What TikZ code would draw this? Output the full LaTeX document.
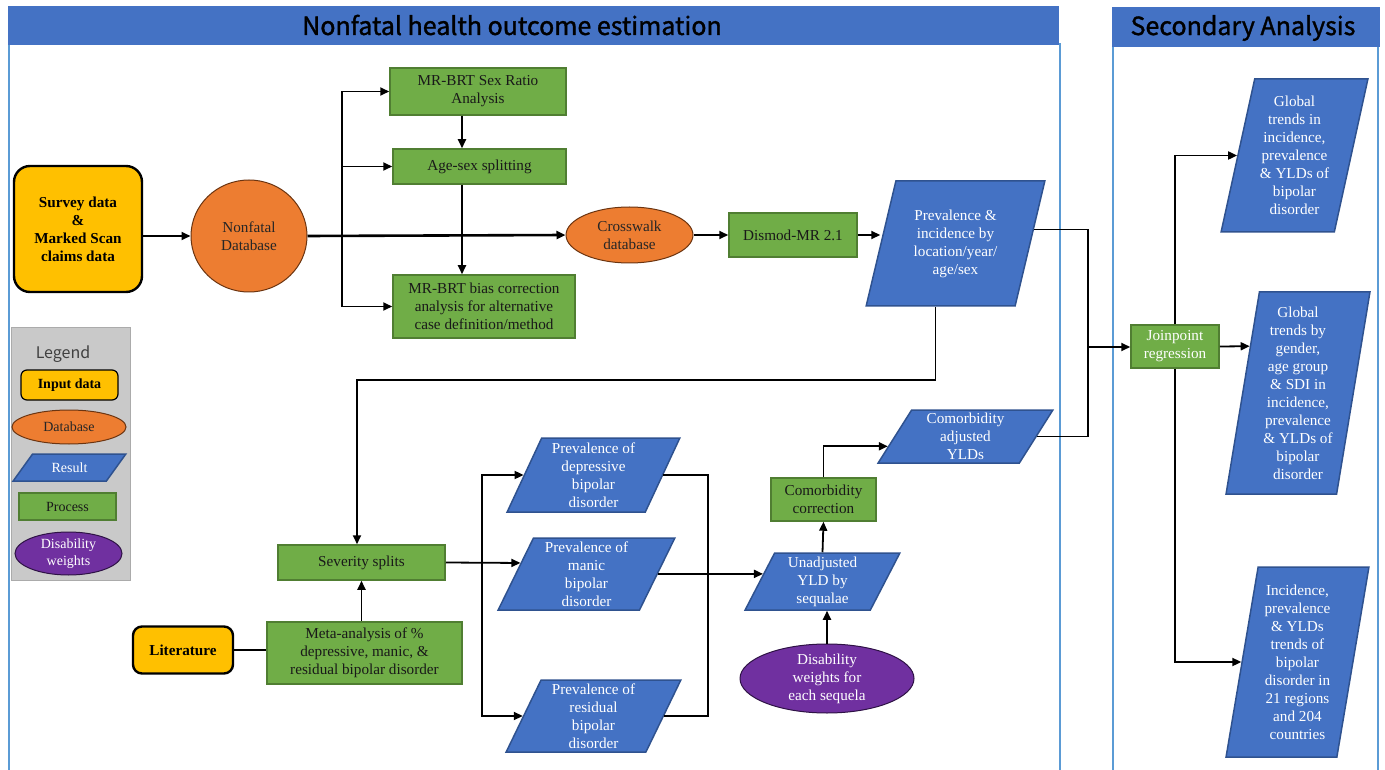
\documentclass[tikz,border=0pt]{standalone}
\usepackage{fontspec}
\setmainfont{Liberation Serif}
\newfontfamily\headfont{Noto Sans CJK SC}[FakeBold=1.3]
\newfontfamily\keyfont{Noto Sans CJK SC}
\usepackage{tikz}
\usetikzlibrary{arrows.meta}
\usetikzlibrary{calc}
\usetikzlibrary{shapes}

\definecolor{bandblue}{HTML}{4472C4}
\definecolor{panelline}{HTML}{5B9BD5}
\definecolor{inputyellow}{HTML}{FFC000}
\definecolor{dborange}{HTML}{ED7D31}
\definecolor{dbedge}{HTML}{6B3410}
\definecolor{procgreen}{HTML}{70AD47}
\definecolor{procedge}{HTML}{507E32}
\definecolor{resblue}{HTML}{4472C4}
\definecolor{resedge}{HTML}{2F528F}
\definecolor{wtpurple}{HTML}{7030A0}
\definecolor{wtedge}{HTML}{2E1245}
\definecolor{keygray}{HTML}{C9C9C9}

\begin{document}
\begin{tikzpicture}[x=1pt, y=-1pt,
        every node/.style={font=\fontsize{15.2}{18}\selectfont, align=center, inner sep=1pt},
        band_style/.style={rectangle, fill=bandblue, draw=bandblue},
        head_style/.style={font=\headfont\fontsize{25}{28}\selectfont, text=black},
        panel_style/.style={draw=panelline, line width=2pt},
        input_style/.style={rectangle, rounded corners=16pt, draw=black, line width=2.4pt, fill=inputyellow, font=\fontsize{15.2}{18}\selectfont\bfseries},
        db_style/.style={ellipse, draw=dbedge, line width=1pt, fill=dborange, text=black!85},
        process_style/.style={rectangle, draw=procedge, line width=1.5pt, fill=procgreen, text=black!90},
        result_style/.style={trapezium, trapezium stretches=true, trapezium left angle=#1, trapezium right angle=\the\numexpr180-#1\relax, draw=resedge, line width=1.5pt, fill=resblue, text=white},
        weight_style/.style={ellipse, draw=wtedge, line width=1pt, fill=wtpurple, text=white},
        key_style/.style={rectangle, fill=keygray, draw=keygray!85!black, line width=0.8pt},
        key_text/.style={font=\fontsize{14}{17}\selectfont},
        edge_style/.style={draw=black, line width=1.8pt, -{Triangle[length=9pt,width=8pt]}},
        line_style/.style={draw=black, line width=1.8pt}]

        \useasboundingbox (0,0) rectangle (1385,770);

        \draw [panel_style] (9,770) -- (9,44) -- (1060,44) -- (1060,770);
        \draw [panel_style] (1113,770) -- (1113,46) -- (1378,46) -- (1378,770);
        \node [band_style, minimum width=1050pt, minimum height=38pt](band_a) at (533,25) {};
        \node [band_style, minimum width=267pt, minimum height=39pt](band_b) at (1245.5,26.5) {};
        \node [head_style](title_a) at (512,25) {Nonfatal health outcome estimation};
        \node [head_style](title_b) at (1243,28) {Secondary Analysis};

        \node [key_style, minimum width=119pt, minimum height=253pt](legend) at (70.5,453.5) {};
        \node [font=\keyfont\fontsize{16}{18}\selectfont, text=black!75](legend_title) at (63,354) {Legend};
        \node [input_style, font=\fontsize{14}{17}\selectfont\bfseries, rounded corners=6pt, line width=1.2pt, minimum width=97pt, minimum height=30pt](key_input) at (69.5,385) {Input data};
        \node [db_style, key_text, minimum width=114pt, minimum height=34pt](key_db) at (69,427) {Database};
        \node [result_style=50, key_text, minimum width=113pt, minimum height=27pt](key_result) at (69.5,467.5) {Result};
        \node [process_style, key_text, minimum width=97pt, minimum height=27pt](key_process) at (67.5,506.5) {Process};
        \node [weight_style, key_text, inner ysep=-2pt, minimum width=107pt, minimum height=43pt](key_weight) at (68.5,553.5) {Disability\\weights};

        \node [input_style, minimum width=128pt, minimum height=126pt](survey) at (78,229) {Survey data\\\&\\Marked Scan\\claims data};
        \node [db_style, minimum width=116pt, minimum height=112pt](nonfatal) at (249,236) {Nonfatal\\Database};
        \node [process_style, minimum width=176pt, minimum height=47pt](sexratio) at (478,91.5) {MR-BRT Sex Ratio\\Analysis};
        \node [process_style, minimum width=173pt, minimum height=35pt](agesex) at (479.5,166.5) {Age-sex splitting};
        \node [process_style, minimum width=182pt, minimum height=63pt](bias) at (484,306.5) {MR-BRT bias correction\\analysis for alternative\\case definition/method};
        \node [db_style, minimum width=127pt, minimum height=56pt](crosswalk) at (629.5,235) {Crosswalk\\database};
        \node [process_style, minimum width=128pt, minimum height=44pt](dismod) at (793,235) {Dismod-MR 2.1};
        \node [result_style=73, minimum width=179pt, minimum height=125pt](prev) at (955.5,243.5) {Prevalence \&\\incidence by\\location/year/\\age/sex};

        \node [process_style, minimum width=167pt, minimum height=35pt](severity) at (361.5,562.5) {Severity splits};
        \node [input_style, rounded corners=9pt, minimum width=100pt, minimum height=47pt](literature) at (183,650) {Literature};
        \node [process_style, minimum width=195pt, minimum height=62pt](meta) at (364.5,653) {Meta-analysis of \%\\depressive, manic, \&\\residual bipolar disorder};
        \node [result_style=67, minimum width=173pt, minimum height=74pt](depr) at (593.5,475) {Prevalence of\\depressive\\bipolar\\disorder};
        \node [result_style=67, minimum width=177pt, minimum height=72pt](manic) at (586.5,574) {Prevalence of\\manic\\bipolar\\disorder};
        \node [result_style=67, minimum width=175pt, minimum height=72pt](resid) at (593.5,716) {Prevalence of\\residual\\bipolar\\disorder};
        \node [result_style=67, minimum width=155pt, minimum height=57pt](unadj) at (822.5,581.5) {Unadjusted\\YLD by\\sequalae};
        \node [process_style, minimum width=105pt, minimum height=43pt](comorb) at (823.5,499.5) {Comorbidity\\correction};
        \node [result_style=63, minimum width=175pt, minimum height=53pt](cadj) at (965.5,436.5) {Comorbidity\\adjusted\\YLDs};
        \node [weight_style, inner ysep=-2pt, minimum width=174pt, minimum height=69pt](disab) at (827,678.5) {Disability\\weights for\\each sequela};

        \node [process_style, text=white, minimum width=88pt, minimum height=43pt](joinpoint) at (1175,346.5) {Joinpoint\\regression};
        \node [result_style=76, minimum width=147pt, minimum height=153pt](glob1) at (1294.5,155.5) {Global\\trends in\\incidence,\\prevalence\\\& YLDs of\\bipolar\\disorder};
        \node [result_style=80, minimum width=144pt, minimum height=202pt](glob2) at (1298,393) {Global\\trends by\\gender,\\age group\\\& SDI in\\incidence,\\prevalence\\\& YLDs of\\bipolar\\disorder};
        \node [result_style=80, minimum width=143pt, minimum height=190pt](glob3) at (1297.5,662) {Incidence,\\prevalence\\\& YLDs\\trends of\\bipolar\\disorder in\\21 regions\\and 204\\countries};

        \coordinate (split_a) at (342,236);
        \coordinate (col_a) at (462,0);
        \coordinate (split_b) at (482,563);
        \coordinate (col_b) at (708,0);
        \coordinate (turn_a) at (357,380);
        \coordinate (merge) at (1088,347);

        \draw [edge_style] (survey.east |- nonfatal) -- (nonfatal.west);
        \draw [edge_style, line width=2.6pt] (nonfatal.east) -- (crosswalk.west);
        \draw [edge_style] (split_a) |- (sexratio.west);
        \draw [edge_style] (split_a |- agesex.west) -- (agesex.west);
        \draw [edge_style] (split_a) |- (bias.west);
        \draw [edge_style] (sexratio.south -| col_a) -- (agesex.north -| col_a);
        \draw [edge_style] (agesex.south -| col_a) -- (bias.north -| col_a);
        \draw [edge_style] (crosswalk.east) -- (crosswalk.east -| dismod.west);
        \draw [edge_style] (dismod.east) -- (dismod.east -| prev.west);
        \draw [line_style] ($(prev.top right corner)!0.39!(prev.bottom right corner)$) -| (merge);
        \draw [line_style] (cadj.east) -| (merge);
        \draw [edge_style] (merge) -- (merge -| joinpoint.west);
        \draw [edge_style] ([xshift=-20pt]prev.south) |- (turn_a) -- (turn_a |- severity.north);

        \draw [line_style] (literature.east) -- (literature.east -| meta.west);
        \draw [edge_style] (meta.north -| severity.south) -- (severity.south);
        \draw [edge_style] (severity.east) -- ($(manic.top left corner)!0.35!(manic.bottom left corner)$);
        \draw [edge_style] (split_b) |- (depr.west);
        \draw [edge_style] (split_b) |- (resid.west);
        \draw [line_style] (depr.east) -| (col_b |- resid.east) -- (resid.east);
        \draw [edge_style] (manic.east) -- ($(unadj.top left corner)!0.37!(unadj.bottom left corner)$);
        \draw [edge_style] (unadj.north) -- (comorb.south);
        \draw [edge_style] (disab.north) -- (disab.north |- unadj.south);
        \draw [edge_style] (comorb.north) |- ($(cadj.top left corner)!0.68!(cadj.bottom left corner)$);

        \draw [edge_style] (joinpoint.north) |- (glob1.west);
        \draw [edge_style] (joinpoint.east) -- ($(glob2.top left corner)!0.27!(glob2.bottom left corner)$);
        \draw [edge_style] (joinpoint.south) |- (glob3.west);
\end{tikzpicture}
\end{document}
